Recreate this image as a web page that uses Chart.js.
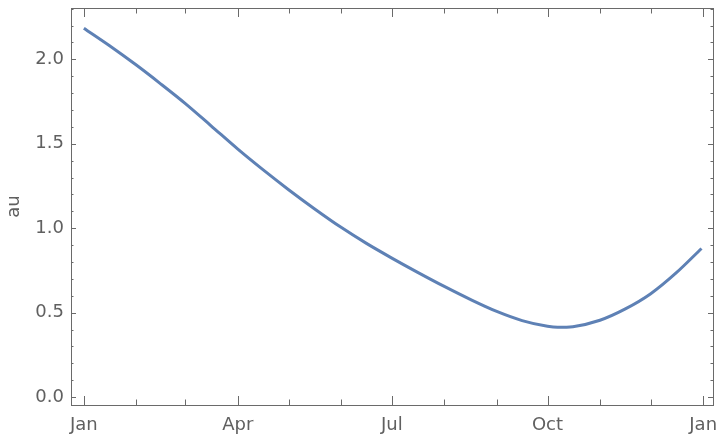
<!DOCTYPE html>
<html>
<head>
<meta charset="utf-8">
<script src="https://cdn.jsdelivr.net/npm/chart.js@4"></script>
<style>
  html, body { margin: 0; padding: 0; background: #fff; }
  #wrap { width: 720px; height: 436px; }
</style>
</head>
<body>
<div id="wrap"><canvas id="chart" width="720" height="436"></canvas></div>
<script>
// day of year 2020 (0 = Jan 1) and distance in au
const days = [0, 15, 31, 45, 60, 75, 91, 106, 121, 136, 152, 167, 182, 197, 213, 228, 244, 259, 274, 280, 289, 305, 320, 335, 350, 365];
const distance = [2.184, 2.082, 1.966, 1.858, 1.738, 1.608, 1.468, 1.345, 1.228, 1.117, 1.005, 0.910, 0.823, 0.740, 0.655, 0.580, 0.507, 0.453, 0.419, 0.413, 0.417, 0.455, 0.522, 0.612, 0.735, 0.880];

const monthStarts = [0, 31, 60, 91, 121, 152, 182, 213, 244, 274, 305, 335, 366];
const xTickDays = [0, 91, 182, 274, 366];
const xTickLabels = ['Jan', 'Apr', 'Jul', 'Oct', 'Jan'];
const yTicks = [0, 0.5, 1.0, 1.5, 2.0];

const textColor = '#606060';
const frameColor = '#6a6a6a';
const lineColor = '#5e81b5';

// inward ticks and the full frame, Mathematica style
const frameTicks = {
  id: 'frameTicks',
  afterDraw(chart) {
    const { ctx, chartArea: a, scales: { x, y } } = chart;
    ctx.save();
    ctx.strokeStyle = frameColor;
    ctx.lineWidth = 1;
    ctx.beginPath();
    monthStarts.forEach(d => {
      const px = Math.round(x.getPixelForValue(d)) + 0.5;
      const len = xTickDays.includes(d) ? 9 : 5.5;
      ctx.moveTo(px, a.bottom); ctx.lineTo(px, a.bottom - len);
      ctx.moveTo(px, a.top); ctx.lineTo(px, a.top + len);
    });
    for (let i = 0; i <= 23; i++) {
      const v = i / 10;
      const py = Math.round(y.getPixelForValue(v)) + 0.5;
      const len = i % 5 === 0 ? 5 : 2.5;
      ctx.moveTo(a.left, py); ctx.lineTo(a.left + len, py);
      ctx.moveTo(a.right, py); ctx.lineTo(a.right - len, py);
    }
    ctx.stroke();
    ctx.strokeRect(Math.round(a.left) + 0.5, Math.round(a.top) + 0.5,
      Math.round(a.right - a.left), Math.round(a.bottom - a.top));
    ctx.restore();
  }
};

new Chart(document.getElementById('chart'), {
  type: 'line',
  data: {
    datasets: [{
      data: days.map((d, i) => ({ x: d, y: distance[i] })),
      borderColor: lineColor,
      borderWidth: 3,
      pointRadius: 0,
      cubicInterpolationMode: 'monotone',
      fill: false,
    }],
  },
  options: {
    responsive: false,
    animation: false,
    layout: { padding: { top: 8, right: 7, left: 0, bottom: 0 } },
    plugins: { legend: { display: false }, tooltip: { enabled: false } },
    scales: {
      x: {
        type: 'linear',
        min: -7.6,
        max: 371.8,
        afterBuildTicks: s => { s.ticks = xTickDays.map(v => ({ value: v })); },
        afterFit: s => { s.height = 31; s.paddingLeft = 0; s.paddingRight = 0; },
        grid: { display: false, drawTicks: false },
        border: { display: false },
        ticks: {
          padding: 10,
          color: textColor,
          font: { family: 'DejaVu Sans', size: 18 },
          maxRotation: 0,
          callback: v => xTickLabels[xTickDays.indexOf(v)],
        },
      },
      y: {
        min: -0.047,
        max: 2.304,
        afterBuildTicks: s => { s.ticks = yTicks.map(v => ({ value: v })); },
        afterFit: s => { s.width = 71; s.paddingTop = 0; s.paddingBottom = 0; },
        grid: { display: false, drawTicks: false },
        border: { display: false },
        title: {
          display: true,
          text: 'au',
          color: textColor,
          font: { family: 'DejaVu Sans', size: 18 },
          padding: { top: 4, bottom: 0 },
        },
        ticks: {
          padding: 7,
          color: textColor,
          font: { family: 'DejaVu Sans', size: 18 },
          callback: v => v.toFixed(1),
        },
      },
    },
  },
  plugins: [frameTicks],
});
</script>
</body>
</html>
